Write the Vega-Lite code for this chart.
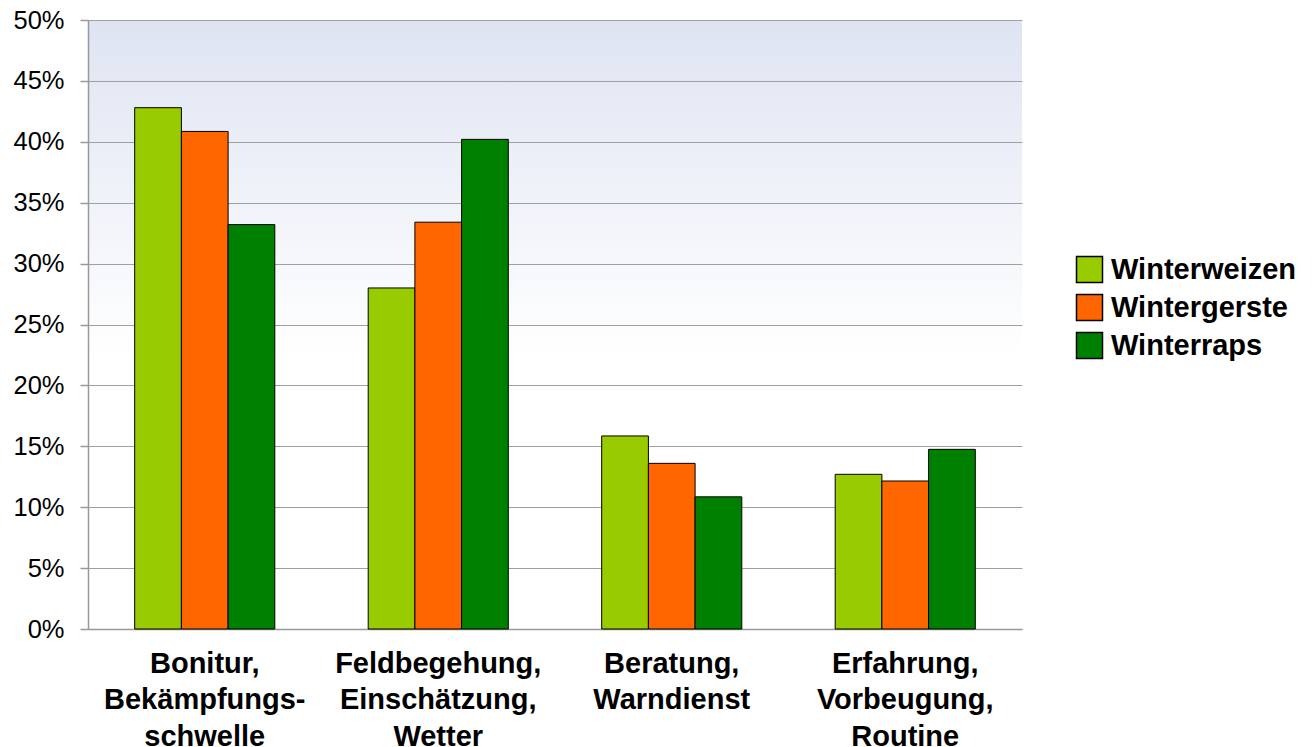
{
  "$schema": "https://vega.github.io/schema/vega-lite/v6.json",
  "width": 934,
  "height": 609,
  "autosize": {"type": "none"},
  "padding": {"left": 88, "top": 20, "right": 290, "bottom": 118},
  "background": "white",
  "config": {
    "view": {
      "stroke": null,
      "fill": {
        "gradient": "linear",
        "x1": 0, "y1": 0, "x2": 0, "y2": 1,
        "stops": [
          {"offset": 0, "color": "#dee4f2"},
          {"offset": 0.55, "color": "#ffffff"},
          {"offset": 1, "color": "#ffffff"}
        ]
      }
    },
    "font": "Liberation Sans"
  },
  "data": {
    "values": [
      {"cat": "Bonitur,|Bekämpfungs-|schwelle", "crop": "Winterweizen", "v": 42.8},
      {"cat": "Bonitur,|Bekämpfungs-|schwelle", "crop": "Wintergerste", "v": 40.85},
      {"cat": "Bonitur,|Bekämpfungs-|schwelle", "crop": "Winterraps", "v": 33.2},
      {"cat": "Feldbegehung,|Einschätzung,|Wetter", "crop": "Winterweizen", "v": 28.0},
      {"cat": "Feldbegehung,|Einschätzung,|Wetter", "crop": "Wintergerste", "v": 33.4},
      {"cat": "Feldbegehung,|Einschätzung,|Wetter", "crop": "Winterraps", "v": 40.2},
      {"cat": "Beratung,|Warndienst", "crop": "Winterweizen", "v": 15.85},
      {"cat": "Beratung,|Warndienst", "crop": "Wintergerste", "v": 13.6},
      {"cat": "Beratung,|Warndienst", "crop": "Winterraps", "v": 10.85},
      {"cat": "Erfahrung,|Vorbeugung,|Routine", "crop": "Winterweizen", "v": 12.7},
      {"cat": "Erfahrung,|Vorbeugung,|Routine", "crop": "Wintergerste", "v": 12.15},
      {"cat": "Erfahrung,|Vorbeugung,|Routine", "crop": "Winterraps", "v": 14.75}
    ]
  },
  "mark": {"type": "bar", "stroke": "black", "strokeWidth": 1},
  "encoding": {
    "x": {
      "field": "cat", "type": "nominal", "sort": null,
      "scale": {"paddingInner": 0, "paddingOuter": 0},
      "axis": {
        "title": null,
        "labelAngle": 0,
        "labelExpr": "split(datum.label, '|')",
        "labelFont": "Liberation Sans",
        "labelFontSize": 29,
        "labelFontWeight": "bold",
        "labelColor": "black",
        "labelLineHeight": 36.5,
        "labelPadding": 20,
        "labelLimit": 400,
        "ticks": false,
        "domainColor": "#999999",
        "domainWidth": 1.5
      }
    },
    "xOffset": {
      "field": "crop", "type": "nominal", "sort": ["Winterweizen", "Wintergerste", "Winterraps"],
      "scale": {"paddingInner": 0, "paddingOuter": 1}
    },
    "y": {
      "field": "v", "type": "quantitative",
      "scale": {"domain": [0, 50]},
      "axis": {
        "title": null,
        "values": [0, 5, 10, 15, 20, 25, 30, 35, 40, 45, 50],
        "labelExpr": "datum.value + '%'",
        "labelFont": "Liberation Sans",
        "labelFontSize": 25.5,
        "labelColor": "black",
        "labelPadding": 16,
        "tickSize": 8,
        "tickColor": "#999999",
        "tickWidth": 1.5,
        "domainColor": "#999999",
        "domainWidth": 1.5,
        "grid": true,
        "gridColor": "#a0a0a0",
        "gridWidth": 1.2
      }
    },
    "color": {
      "field": "crop", "type": "nominal",
      "sort": ["Winterweizen", "Wintergerste", "Winterraps"],
      "scale": {"domain": ["Winterweizen", "Wintergerste", "Winterraps"], "range": ["#99cc00", "#ff6600", "#008000"]},
      "legend": {
        "title": null,
        "orient": "none",
        "legendX": 987,
        "legendY": 235,
        "symbolType": "square",
        "symbolSize": 676,
        "symbolStrokeColor": "black",
        "symbolStrokeWidth": 1.5,
        "symbolOpacity": 1,
        "labelFont": "Liberation Sans",
        "labelFontSize": 29,
        "labelFontWeight": "bold",
        "labelColor": "black",
        "labelOffset": 7,
        "rowPadding": 5,
        "labelLimit": 400
      }
    }
  }
}
